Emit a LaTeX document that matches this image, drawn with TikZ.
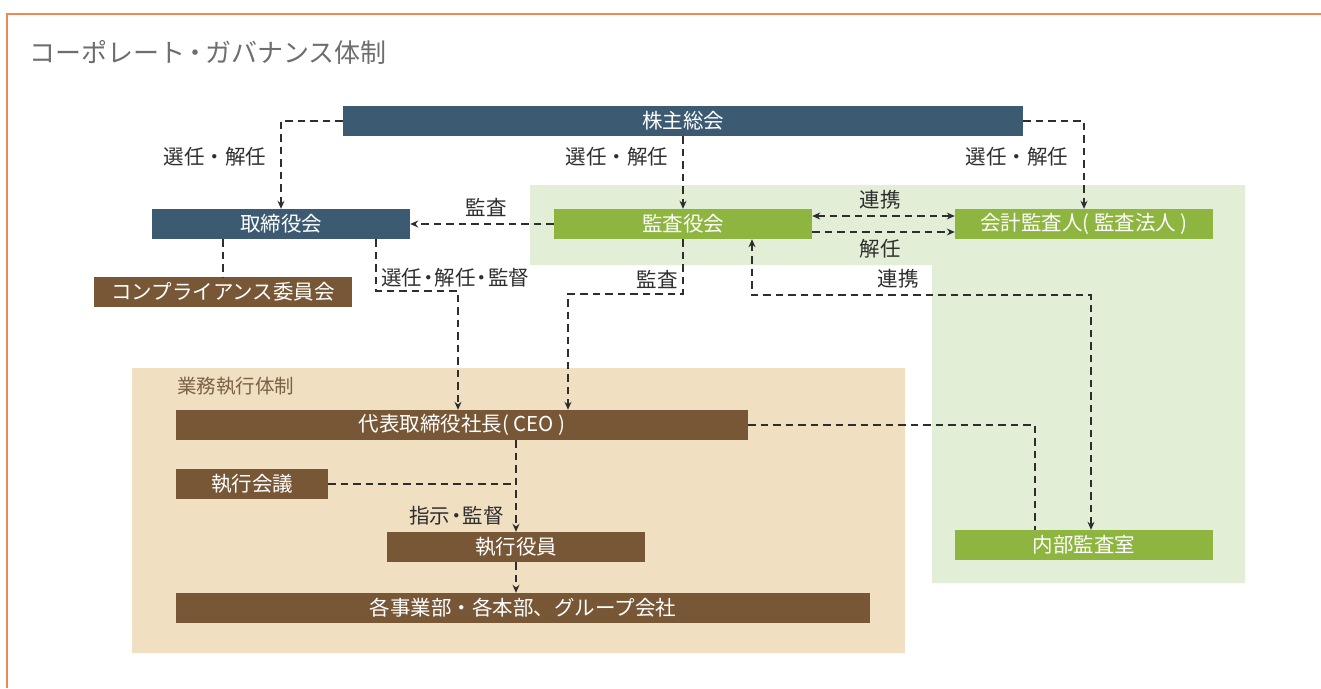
\documentclass[tikz,border=0pt]{standalone}
\usepackage{fontspec}
\setmainfont{Noto Sans CJK JP}
\usetikzlibrary{arrows.meta}
\definecolor{navy}{HTML}{3D5A73}
\definecolor{leaf}{HTML}{8DB53F}
\definecolor{bark}{HTML}{785737}
\definecolor{paleg}{HTML}{E2EFD6}
\definecolor{beige}{HTML}{F0DFC0}
\definecolor{frame}{HTML}{EC8A4F}
\definecolor{ink}{HTML}{2E2E2E}
\definecolor{titlegray}{HTML}{6E6E6E}
\newcommand{\ndot}{\kern-4pt・\kern-4pt}
\begin{document}
\begin{tikzpicture}[x=1pt,y=-1pt,
  boxbase/.style={minimum height=30pt, inner sep=0pt, text=white, font=\fontsize{20.5}{24}\selectfont},
  bluebox/.style={boxbase, fill=navy},
  greenbox/.style={boxbase, fill=leaf},
  brownbox/.style={boxbase, fill=bark},
  lbl/.style={text=ink, inner sep=0pt, font=\fontsize{20.5}{24}\selectfont},
  conn/.style={draw=ink, line width=1.3pt, dash pattern=on 7.5pt off 5pt, arrows={-Stealth[length=8pt,width=7pt]}},
  plain/.style={draw=ink, line width=1.3pt, dash pattern=on 7.5pt off 5pt},
  both/.style={draw=ink, line width=1.3pt, dash pattern=on 7.5pt off 5pt, arrows={Stealth[length=8pt,width=7pt]-Stealth[length=8pt,width=7pt]}}]
\useasboundingbox (0,0) rectangle (1321,688);
\fill[white] (0,0) rectangle (1321,688);
% frame
\draw[frame, line width=1.5pt] (1321,14) -- (7,14) -- (7,688);
\node[anchor=west, text=titlegray, inner sep=0pt, font=\fontsize{26}{30}\selectfont] (title) at (29,52) {コーポレート\kern-3pt・\kern-3pt ガバナンス体制};
% regions
\fill[paleg] (530,185) -- (1245,185) -- (1245,583) -- (932,583) -- (932,265) -- (530,265) -- cycle;
\fill[beige] (132,368) rectangle (905,653);
\node[anchor=west, text=bark!75!gray, inner sep=0pt, font=\fontsize{19.5}{23}\selectfont] (area) at (177,386) {業務執行体制};
% boxes
\node[bluebox, minimum width=680pt] (sh) at (683,121) {株主総会};
\node[bluebox, minimum width=258pt] (tb) at (281,224) {取締役会};
\node[greenbox, minimum width=258pt] (kk) at (683,224) {監査役会};
\node[greenbox, minimum width=258pt] (ka) at (1084,224) {会計監査人( 監査法人 )};
\node[brownbox, minimum width=258pt] (cp) at (223,292) {コンプライアンス委員会};
\node[brownbox, minimum width=572pt] (ceo) at (462,425) {代表取締役社長( CEO )};
\node[brownbox, minimum width=152pt] (sk) at (252,484) {執行会議};
\node[brownbox, minimum width=258pt] (sy) at (516,547) {執行役員};
\node[brownbox, minimum width=694pt] (jg) at (523,608) {各事業部・各本部、グループ会社};
\node[greenbox, minimum width=258pt] (nb) at (1084,545) {内部監査室};
% helper coordinates
\coordinate (c1) at (458,291);
\coordinate (c2) at (568,294);
\coordinate (c3) at (752,295);
% connectors
\draw[conn] (sh.west) -| (tb.north);
\draw[conn] (sh.south) -- (kk.north);
\draw[conn] (sh.east) -| (ka.north);
\draw[conn] (kk.west) -- (tb.east);
\draw[both] ([yshift=8pt]kk.east) -- ([yshift=8pt]ka.west);
\draw[conn] ([yshift=-8pt]kk.east) -- ([yshift=-8pt]ka.west);
\draw[plain] (tb.south -| cp.north) -- (cp.north);
\draw[conn] ([xshift=95pt]tb.south) |- (c1) -- (c1 |- ceo.north);
\draw[conn] (kk.south) |- (c2) -- (c2 |- ceo.north);
\draw[both] ([xshift=7pt]nb.north) |- (c3) -- (c3 |- kk.south);
\draw[plain] (ceo.east) -| ([xshift=-49pt]nb.north);
\draw[conn] (ceo.south -| sy.north) -- (sy.north);
\draw[plain] (sk.east) -- (sk.east -| sy.north);
\draw[conn] (sy.south) -- (sy.south |- jg.north);
% labels
\node[lbl] (l1) at (215,157) {選任・解任};
\node[lbl] (l2) at (617,157) {選任・解任};
\node[lbl] (l3) at (1017,157) {選任・解任};
\node[lbl] (l4) at (486,207) {監査};
\node[lbl] (l5) at (880,200) {連携};
\node[lbl] (l6) at (880,249) {解任};
\node[lbl, anchor=west] (l7) at (381,278) {選任\ndot 解任\ndot 監督};
\node[lbl] (l8) at (657,279) {監査};
\node[lbl] (l9) at (898,279) {連携};
\node[lbl, anchor=east] (l10) at (504,516) {指示\ndot 監督};
\end{tikzpicture}
\end{document}
